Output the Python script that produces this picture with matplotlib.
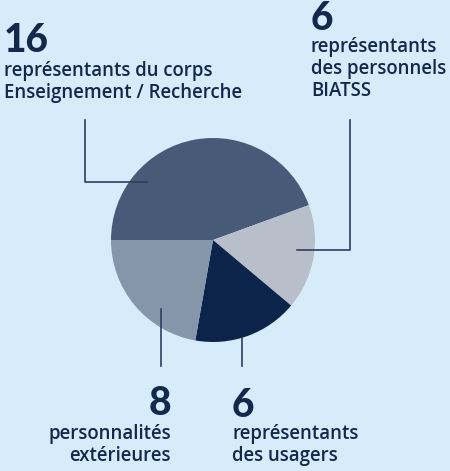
import matplotlib.pyplot as plt

values = [16, 6, 6, 8]
numbers = ["16", "6", "6", "8"]
labels = [
    "représentants du corps\nEnseignement / Recherche",
    "représentants\ndes personnels\nBIATSS",
    "représentants\ndes usagers",
    "personnalités\nextérieures",
]
colors = ["#475a78", "#b8bfca", "#0c2449", "#8696aa"]

W, H = 450, 471
bg = "#d6ecfb"
ink = "#12294c"
line_c = "#2c3f5e"

fig = plt.figure(figsize=(W / 100, H / 100), dpi=100, facecolor=bg)
ax = fig.add_axes([0, 0, 1, 1])
ax.set_facecolor(bg)

ax.pie(values, colors=colors, startangle=180, counterclock=False,
       center=(213, H - 240), radius=102, wedgeprops=dict(linewidth=0))
ax.set_xlim(0, W)
ax.set_ylim(0, H)
ax.set_aspect("equal")
ax.axis("off")


def y(v):
    return H - v


# connector lines
ax.plot([147, 85, 85], [y(182), y(182), y(120)], color=line_c, lw=1.2)
ax.plot([297, 350, 350], [y(250), y(250), y(120)], color=line_c, lw=1.2)
ax.plot([161, 161], [y(309), y(366)], color=line_c, lw=1.2)
ax.plot([242, 242], [y(338), y(366)], color=line_c, lw=1.2)

num_kw = dict(family="Lato", fontweight="black", fontsize=28, color=ink)
lab_kw = dict(family="Open Sans", fontweight=600, fontsize=13.4, color=ink,
              linespacing=1.12)

# multiline labels: y is the baseline of the last line
# 16
ax.text(4, y(52), numbers[0], ha="left", va="baseline", **num_kw)
ax.text(4, y(98), labels[0], ha="left", va="baseline", **lab_kw)
# 6 BIATSS
ax.text(311, y(30), numbers[1], ha="left", va="baseline", **num_kw)
ax.text(311, y(96), labels[1], ha="left", va="baseline", **lab_kw)
# 6 usagers
ax.text(232, y(417), numbers[2], ha="left", va="baseline", **num_kw)
ax.text(232, y(461), labels[2], ha="left", va="baseline", **lab_kw)
# 8
ax.text(171, y(415), numbers[3], ha="right", va="baseline", **num_kw)
ax.text(171, y(461), labels[3], ha="right", va="baseline",
        multialignment="right", **lab_kw)

fig.savefig("out.png", dpi=100, facecolor=bg)
